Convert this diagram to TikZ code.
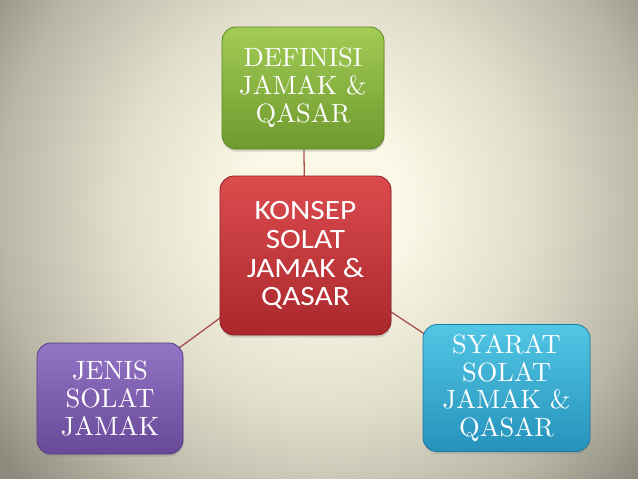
\documentclass[tikz,border=0pt]{standalone}
\usepackage{fontspec}
\newfontfamily\centrefont[FakeStretch=1.12]{Carlito}
\newfontfamily\boxserif{lmroman10-regular.otf}
\usetikzlibrary{shadows}
\definecolor{bgc}{HTML}{FCF8E7}
\definecolor{bgm}{HTML}{E2DECC}
\definecolor{bgm2}{HTML}{B9B6A6}
\definecolor{bgo}{HTML}{8B8A7D}
\definecolor{greenT}{HTML}{A3CC55}
\definecolor{greenB}{HTML}{6E9A2E}
\definecolor{greenD}{HTML}{5A8426}
\definecolor{redT}{HTML}{DC4B4E}
\definecolor{redB}{HTML}{A9282C}
\definecolor{redD}{HTML}{8A1F23}
\definecolor{blueT}{HTML}{52C6E5}
\definecolor{blueB}{HTML}{2592BB}
\definecolor{blueD}{HTML}{1E7BA0}
\definecolor{purpleT}{HTML}{9474C4}
\definecolor{purpleB}{HTML}{684898}
\definecolor{purpleD}{HTML}{553A82}
\definecolor{linkc}{HTML}{A8504A}
\pgfdeclareradialshading{bgshade}{\pgfpoint{0bp}{0bp}}{color(0bp)=(bgc); color(4.5bp)=(bgc); color(12bp)=(bgm); color(19bp)=(bgm2); color(24bp)=(bgo); color(50bp)=(bgo)}
\pgfdeclarelayer{back}
\pgfdeclarelayer{links}
\pgfsetlayers{back,links,main}
\begin{document}
\begin{tikzpicture}[x=1pt,y=-1pt,
  box/.style={draw=#1D, line width=0.8pt, top color=#1T, bottom color=#1B,
    rounded corners=14pt, inner sep=0pt, text=white, align=center,
    drop shadow={opacity=0.3, shadow xshift=0.5pt, shadow yshift=-2.5pt}},
  serifbox/.style={font=\boxserif\fontsize{26.5}{27.8}\selectfont},
  link/.style={draw=linkc, line width=1.3pt}]
\begin{pgfonlayer}{back}
  \begin{scope}
    \clip (0,0) rectangle (638,479);
    \fill[shading=bgshade] (325,205) circle (430);
  \end{scope}
\end{pgfonlayer}
\useasboundingbox (0,0) rectangle (638,479);

\node[box=green, serifbox, minimum width=162pt, minimum height=122pt] (def) at (303,88) {DEFINISI\\JAMAK \&\\QASAR};
\node[box=red, font=\centrefont\fontsize{28}{28.7}\selectfont, minimum width=171pt, minimum height=159pt] (konsep) at (305.5,255.5) {KONSEP\\SOLAT\\JAMAK \&\\QASAR};
\node[box=blue, serifbox, minimum width=167pt, minimum height=127pt] (syarat) at (506.5,388) {SYARAT\\SOLAT\\JAMAK \&\\QASAR};
\node[box=purple, serifbox, minimum width=146pt, minimum height=111pt] (jenis) at (110,398.5) {JENIS\\SOLAT\\JAMAK};

\begin{pgfonlayer}{links}
  \draw[link] (konsep.center) -- (def.center);
  \draw[link] (konsep.center) -- (syarat.center);
  \draw[link] (konsep.center) -- (jenis.center);
\end{pgfonlayer}
\end{tikzpicture}
\end{document}
